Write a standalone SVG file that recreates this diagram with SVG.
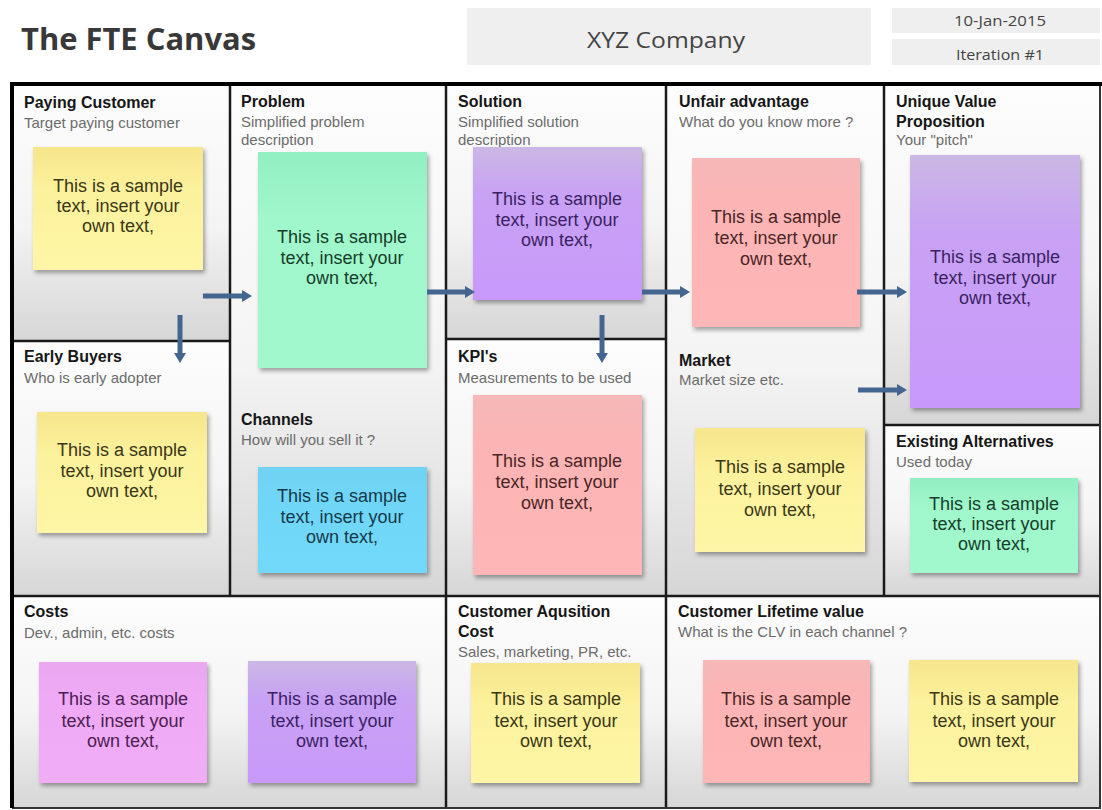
<svg xmlns="http://www.w3.org/2000/svg" width="1102" height="810" viewBox="0 0 1102 810">
<style>
.title{font-family:"Open Sans","Liberation Sans",sans-serif;font-weight:700;fill:#383838}
.hdr{font-family:"Open Sans","Liberation Sans",sans-serif;fill:#444}
.box{fill:#efefef}
.cell{fill:url(#cellg)}
.h{font-family:"Liberation Sans",Arial,sans-serif;font-weight:700;font-size:16px;fill:#161616}
.s{font-family:"Liberation Sans",Arial,sans-serif;font-size:15px;fill:#6c6c6c}
.t{font-family:"Liberation Sans",Arial,sans-serif;font-size:18px;text-anchor:middle}
.note{filter:url(#sh)}
.grid{stroke:#1a1a1a;stroke-width:2.5;fill:none}
.arr{stroke:#44658f;stroke-width:5;fill:none;marker-end:url(#ah)}
.ty{fill:#3a3616}.tg{fill:#163d2a}.tp{fill:#3a1f63}.tr{fill:#4a2525}.tb{fill:#16394a}.tm{fill:#4a2050}
</style>
<defs>
<linearGradient id="cellg" x1="0" y1="0" x2="0" y2="1"><stop offset="0" stop-color="#fdfdfd"/><stop offset="0.55" stop-color="#f4f4f4"/><stop offset="1" stop-color="#d6d6d6"/></linearGradient>
<linearGradient id="gy" x1="0" y1="0" x2="0" y2="1"><stop offset="0" stop-color="#f6e68c"/><stop offset="0.35" stop-color="#fcf19c"/><stop offset="1" stop-color="#fef6a6"/></linearGradient>
<linearGradient id="gg" x1="0" y1="0" x2="0" y2="1"><stop offset="0" stop-color="#92efc2"/><stop offset="0.3" stop-color="#9ff7cb"/><stop offset="1" stop-color="#a2f8cd"/></linearGradient>
<linearGradient id="gp" x1="0" y1="0" x2="0" y2="1"><stop offset="0" stop-color="#cbb8e4"/><stop offset="0.3" stop-color="#c8a2f4"/><stop offset="1" stop-color="#c899fa"/></linearGradient>
<linearGradient id="gr" x1="0" y1="0" x2="0" y2="1"><stop offset="0" stop-color="#f6b8b8"/><stop offset="0.3" stop-color="#fdb4b4"/><stop offset="1" stop-color="#ffb6b6"/></linearGradient>
<linearGradient id="gb" x1="0" y1="0" x2="0" y2="1"><stop offset="0" stop-color="#72d2f2"/><stop offset="0.3" stop-color="#6fd6f8"/><stop offset="1" stop-color="#72d9fa"/></linearGradient>
<linearGradient id="gm" x1="0" y1="0" x2="0" y2="1"><stop offset="0" stop-color="#eaa8f0"/><stop offset="0.3" stop-color="#efa9f6"/><stop offset="1" stop-color="#f0adf6"/></linearGradient>
<filter id="sh" x="-10%" y="-10%" width="125%" height="125%"><feDropShadow dx="2" dy="3" stdDeviation="2" flood-color="#000" flood-opacity="0.35"/></filter>
<marker id="ah" markerUnits="userSpaceOnUse" markerWidth="10" markerHeight="12" refX="0" refY="6" orient="auto"><path d="M0,0 L10,6 L0,12 z" fill="#44658f"/></marker>
</defs>
<rect width="1102" height="810" fill="#ffffff"/>

<g id="header">
<text class="title" x="21" y="50" font-size="30" textLength="235" lengthAdjust="spacingAndGlyphs">The FTE Canvas</text>
<rect class="box" x="467" y="8" width="404" height="57"/>
<text class="hdr" x="587" y="48" font-size="21" textLength="158" lengthAdjust="spacingAndGlyphs">XYZ Company</text>
<rect class="box" x="892" y="8" width="208" height="25"/>
<text class="hdr" x="954" y="26" font-size="14" textLength="92" lengthAdjust="spacingAndGlyphs">10-Jan-2015</text>
<rect class="box" x="892" y="39" width="208" height="26"/>
<text class="hdr" x="956" y="60" font-size="14" textLength="88" lengthAdjust="spacingAndGlyphs">Iteration #1</text>
</g>

<g id="cells">
<rect class="cell" x="12" y="84" width="218" height="257"/>
<rect class="cell" x="12" y="341" width="218" height="255"/>
<rect class="cell" x="230" y="84" width="216" height="512"/>
<rect class="cell" x="446" y="84" width="220" height="255"/>
<rect class="cell" x="446" y="339" width="220" height="257"/>
<rect class="cell" x="666" y="84" width="218" height="512"/>
<rect class="cell" x="884" y="84" width="216" height="341"/>
<rect class="cell" x="884" y="425" width="216" height="171"/>
<rect class="cell" x="12" y="596" width="434" height="212"/>
<rect class="cell" x="446" y="596" width="220" height="212"/>
<rect class="cell" x="666" y="596" width="434" height="212"/>
</g>

<g id="grid">
<path class="grid" d="M230,84 V596 M446,84 V808 M666,84 V808 M884,84 V596 M12,341 H230 M446,339 H666 M884,425 H1100 M12,596 H1100"/>
<path d="M1100,84 V808 H12" stroke="#333" stroke-width="2" fill="none"/>
<path d="M12,808 V84 H1102" stroke="#000" stroke-width="4" fill="none"/>
</g>

<g id="paying-customer">
<text class="h" x="24" y="108">Paying Customer</text>
<text class="s" x="24" y="128">Target paying customer</text>
<rect class="note" x="33" y="147" width="170" height="123" fill="url(#gy)"/>
<text class="t ty" x="118" y="192">This is a sample</text>
<text class="t ty" x="118" y="212">text, insert your</text>
<text class="t ty" x="118" y="232">own text,</text>
</g>

<g id="early-buyers">
<text class="h" x="24" y="362">Early Buyers</text>
<text class="s" x="24" y="383">Who is early adopter</text>
<rect class="note" x="37" y="412" width="170" height="121" fill="url(#gy)"/>
<text class="t ty" x="122" y="456">This is a sample</text>
<text class="t ty" x="122" y="477">text, insert your</text>
<text class="t ty" x="122" y="497">own text,</text>
</g>

<g id="problem">
<text class="h" x="241" y="107">Problem</text>
<text class="s" x="241" y="127">Simplified problem</text>
<text class="s" x="241" y="145">description</text>
<rect class="note" x="258" y="152" width="169" height="216" fill="url(#gg)"/>
<text class="t tg" x="342" y="243">This is a sample</text>
<text class="t tg" x="342" y="264">text, insert your</text>
<text class="t tg" x="342" y="284">own text,</text>
</g>

<g id="channels">
<text class="h" x="241" y="425">Channels</text>
<text class="s" x="241" y="445">How will you sell it ?</text>
<rect class="note" x="258" y="467" width="169" height="106" fill="url(#gb)"/>
<text class="t tb" x="342" y="502">This is a sample</text>
<text class="t tb" x="342" y="523">text, insert your</text>
<text class="t tb" x="342" y="543">own text,</text>
</g>

<g id="solution">
<text class="h" x="458" y="107">Solution</text>
<text class="s" x="458" y="127">Simplified solution</text>
<text class="s" x="458" y="145">description</text>
<rect class="note" x="473" y="147" width="169" height="153" fill="url(#gp)"/>
<text class="t tp" x="557" y="205">This is a sample</text>
<text class="t tp" x="557" y="226">text, insert your</text>
<text class="t tp" x="557" y="246">own text,</text>
</g>

<g id="kpis">
<text class="h" x="458" y="362">KPI's</text>
<text class="s" x="458" y="383">Measurements to be used</text>
<rect class="note" x="473" y="395" width="169" height="180" fill="url(#gr)"/>
<text class="t tr" x="557" y="467">This is a sample</text>
<text class="t tr" x="557" y="488">text, insert your</text>
<text class="t tr" x="557" y="509">own text,</text>
</g>

<g id="unfair-advantage">
<text class="h" x="679" y="107">Unfair advantage</text>
<text class="s" x="679" y="127">What do you know more ?</text>
<rect class="note" x="692" y="158" width="168" height="169" fill="url(#gr)"/>
<text class="t tr" x="776" y="223">This is a sample</text>
<text class="t tr" x="776" y="244">text, insert your</text>
<text class="t tr" x="776" y="265">own text,</text>
</g>

<g id="market">
<text class="h" x="679" y="366">Market</text>
<text class="s" x="679" y="385">Market size etc.</text>
<rect class="note" x="695" y="428" width="170" height="124" fill="url(#gy)"/>
<text class="t ty" x="780" y="473">This is a sample</text>
<text class="t ty" x="780" y="495">text, insert your</text>
<text class="t ty" x="780" y="516">own text,</text>
</g>

<g id="unique-value-proposition">
<text class="h" x="896" y="107">Unique Value</text>
<text class="h" x="896" y="127">Proposition</text>
<text class="s" x="896" y="145">Your "pitch"</text>
<rect class="note" x="910" y="155" width="170" height="253" fill="url(#gp)"/>
<text class="t tp" x="995" y="263">This is a sample</text>
<text class="t tp" x="995" y="284">text, insert your</text>
<text class="t tp" x="995" y="304">own text,</text>
</g>

<g id="existing-alternatives">
<text class="h" x="896" y="447">Existing Alternatives</text>
<text class="s" x="896" y="467">Used today</text>
<rect class="note" x="910" y="478" width="168" height="95" fill="url(#gg)"/>
<text class="t tg" x="994" y="510">This is a sample</text>
<text class="t tg" x="994" y="530">text, insert your</text>
<text class="t tg" x="994" y="550">own text,</text>
</g>

<g id="costs">
<text class="h" x="24" y="617">Costs</text>
<text class="s" x="24" y="638">Dev., admin, etc. costs</text>
<rect class="note" x="39" y="662" width="168" height="121" fill="url(#gm)"/>
<text class="t tm" x="123" y="705">This is a sample</text>
<text class="t tm" x="123" y="727">text, insert your</text>
<text class="t tm" x="123" y="747">own text,</text>
<rect class="note" x="248" y="661" width="168" height="122" fill="url(#gp)"/>
<text class="t tp" x="332" y="705">This is a sample</text>
<text class="t tp" x="332" y="727">text, insert your</text>
<text class="t tp" x="332" y="747">own text,</text>
</g>

<g id="customer-acquisition-cost">
<text class="h" x="458" y="617">Customer Aqusition</text>
<text class="h" x="458" y="637">Cost</text>
<text class="s" x="458" y="657">Sales, marketing, PR, etc.</text>
<rect class="note" x="471" y="663" width="169" height="120" fill="url(#gy)"/>
<text class="t ty" x="556" y="705">This is a sample</text>
<text class="t ty" x="556" y="727">text, insert your</text>
<text class="t ty" x="556" y="747">own text,</text>
</g>

<g id="customer-lifetime-value">
<text class="h" x="678" y="617">Customer Lifetime value</text>
<text class="s" x="678" y="637">What is the CLV in each channel ?</text>
<rect class="note" x="703" y="660" width="167" height="123" fill="url(#gr)"/>
<text class="t tr" x="786" y="705">This is a sample</text>
<text class="t tr" x="786" y="727">text, insert your</text>
<text class="t tr" x="786" y="747">own text,</text>
<rect class="note" x="909" y="660" width="169" height="122" fill="url(#gy)"/>
<text class="t ty" x="994" y="705">This is a sample</text>
<text class="t ty" x="994" y="727">text, insert your</text>
<text class="t ty" x="994" y="747">own text,</text>
</g>

<g id="connectors">
<path class="arr" d="M203,296 H242"/>
<path class="arr" d="M180,315 V353"/>
<path class="arr" d="M427,292 H465"/>
<path class="arr" d="M642,292 H680"/>
<path class="arr" d="M602,315 V353"/>
<path class="arr" d="M857,292 H897"/>
<path class="arr" d="M858,390 H897"/>
</g>
</svg>
